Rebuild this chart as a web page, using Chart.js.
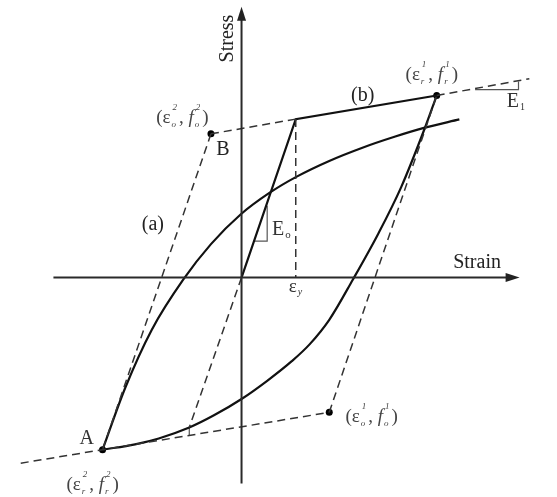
<!DOCTYPE html>
<html>
<head>
<meta charset="utf-8">
<script src="https://cdn.jsdelivr.net/npm/chart.js@4.4.1/dist/chart.umd.min.js"></script>
<style>
  html, body { margin: 0; padding: 0; background: #fff; }
  #wrap { width: 557px; height: 497px; position: relative; }
</style>
</head>
<body>
<div id="wrap"><canvas id="steel-chart"></canvas></div>
<script>
// strain is in units of eps_y, stress in units of f_y
var axisStrain = [-3.47, 5.13];
var axisStress = [-1.30, 1.71];

// branch reloading from A
var upperStrain = [-2.564, -2.145, -1.655, -1.073, -0.564, -0.018, 0.527, 1.018, 1.618, 2.218, 2.836, 3.382, 4.018];
var upperStress = [-1.087, -0.696, -0.329, -0.012, 0.211, 0.398, 0.537, 0.637, 0.736, 0.818, 0.890, 0.946, 0.998];
// branch from A up to the reversal point
var lowerStrain = [-2.564, -1.964, -1.527, -0.964, -0.509, 0, 0.473, 0.927, 1.255, 1.618, 2.055, 2.527, 2.945, 3.382, 3.6];
var lowerStress = [-1.087, -1.053, -1.016, -0.947, -0.870, -0.767, -0.652, -0.528, -0.422, -0.267, -0.012, 0.280, 0.571, 0.944, 1.149];

// key points
var ptA = [-2.564, -1.087];
var ptB = [-0.564, 0.907];
var ptY = [1, 1];
var ptR1 = [3.6, 1.149];
var ptO1 = [1.618, -0.851];
var ptOrigin = [0, 0];
var ptUpperEnd = [5.309, 1.255];
var ptLowerEnd = [-4.073, -1.172];
var ptElasticLow = [-0.964, -0.947];

// slope marks
var slopeE0 = [[0.23, 0.23], [0.473, 0.23], [0.473, 0.453]];
var slopeE1 = [[4.309, 1.186], [5.109, 1.186], [5.109, 1.237]];
var slopeTick = [[-0.964, -0.947], [-0.964, -0.997]];

function pts(xs, ys) {
  return xs.map(function (x, i) { return { x: x, y: ys[i] }; });
}
function pairs(list) {
  return list.map(function (p) { return { x: p[0], y: p[1] }; });
}

var dashLines = [
  [ptB, ptY],
  [ptR1, ptUpperEnd],
  [ptLowerEnd, ptO1],
  [ptB, ptA],
  [ptO1, ptR1],
  [ptOrigin, ptElasticLow],
  [ptY, [ptY[0], 0]]
];

var labels = [
  { parts: ['Stress'], x: -0.164, y: 1.509, size: 20, rotate: true, color: '#222' },
  { parts: ['Strain'], x: 4.345, y: 0.062, size: 20, color: '#222' },
  { parts: ['B'], x: -0.345, y: 0.776, size: 20, color: '#222' },
  { parts: ['A'], x: -2.855, y: -1.050, size: 20, color: '#333' },
  { parts: ['(a)'], x: -1.636, y: 0.298, size: 20, color: '#222' },
  { parts: ['(b)'], x: 2.236, y: 1.112, size: 20, color: '#222' },
  { parts: ['E', { sub: 'o', up: true }], x: 0.564, y: 0.267, size: 20, align: 'left', color: '#333', small: 11 },
  { parts: ['E', { sub: '1', up: true }], x: 4.891, y: 1.075, size: 20, align: 'left', color: '#333', small: 10 },
  { parts: ['\u03b5', { sub: 'y' }], x: 0.873, y: -0.093, size: 19, align: 'left', color: '#333', small: 10 },
  { parts: ['(\u03b5', { sub: 'o', sup: '2' }, ', ', { t: 'f', it: true }, { sub: 'o', sup: '2' }, ')'], x: -1.091, y: 0.975, size: 19, color: '#444' },
  { parts: ['(\u03b5', { sub: 'r', sup: '1' }, ', ', { t: 'f', it: true }, { sub: 'r', sup: '1' }, ')'], x: 3.509, y: 1.248, size: 19, color: '#444' },
  { parts: ['(\u03b5', { sub: 'o', sup: '1' }, ', ', { t: 'f', it: true }, { sub: 'o', sup: '1' }, ')'], x: 2.4, y: -0.913, size: 19, color: '#444' },
  { parts: ['(\u03b5', { sub: 'r', sup: '2' }, ', ', { t: 'f', it: true }, { sub: 'r', sup: '2' }, ')'], x: -2.745, y: -1.342, size: 19, color: '#444' }
];

var FONT = '"Liberation Serif", "DejaVu Serif", serif';

function smallFont(p, small) {
  return (p.up ? '' : 'italic ') + small + 'px ' + FONT;
}

function partWidth(ctx, p, size, small) {
  if (typeof p === 'string') {
    ctx.font = size + 'px ' + FONT;
    return ctx.measureText(p).width;
  }
  if (p.t) {
    ctx.font = (p.it ? 'italic ' : '') + size + 'px ' + FONT;
    return ctx.measureText(p.t).width;
  }
  ctx.font = smallFont(p, small);
  var w = 0;
  if (p.sub) w = Math.max(w, ctx.measureText(p.sub).width);
  if (p.sup) w = Math.max(w, ctx.measureText(p.sup).width);
  return w + (p.sup ? 4 : 2);
}

function drawRich(ctx, l, px, py) {
  var size = l.size;
  var small = l.small || 9;
  ctx.save();
  ctx.fillStyle = l.color;
  ctx.textBaseline = 'alphabetic';
  ctx.textAlign = 'left';
  var widths = l.parts.map(function (p) { return partWidth(ctx, p, size, small); });
  var total = widths.reduce(function (a, b) { return a + b; }, 0);
  var x0;
  if (l.rotate) {
    ctx.translate(px, py);
    ctx.rotate(-Math.PI / 2);
    x0 = -total / 2;
    py = 0;
  } else {
    x0 = l.align === 'left' ? px : px - total / 2;
  }
  var x = x0;
  l.parts.forEach(function (p, i) {
    if (typeof p === 'string') {
      ctx.font = size + 'px ' + FONT;
      ctx.fillText(p, x, py);
    } else if (p.t) {
      ctx.font = (p.it ? 'italic ' : '') + size + 'px ' + FONT;
      ctx.fillText(p.t, x, py);
    } else {
      ctx.font = smallFont(p, small);
      if (p.sub) ctx.fillText(p.sub, x + 1, py + (p.sup ? 4 : 3));
      if (p.sup) ctx.fillText(p.sup, x + 2, py - 13);
    }
    x += widths[i];
  });
  ctx.restore();
}

function drawArrow(ctx, tx, ty, angle) {
  ctx.save();
  ctx.translate(tx, ty);
  ctx.rotate(angle);
  ctx.fillStyle = '#222';
  ctx.beginPath();
  ctx.moveTo(0, 0);
  ctx.lineTo(-14, -4.5);
  ctx.lineTo(-14, 4.5);
  ctx.closePath();
  ctx.fill();
  ctx.restore();
}

var annotate = {
  id: 'annotate',
  afterDatasetsDraw: function (chart) {
    var ctx = chart.ctx, xs = chart.scales.x, ys = chart.scales.y;
    drawArrow(ctx, xs.getPixelForValue(axisStrain[1]), ys.getPixelForValue(0), 0);
    drawArrow(ctx, xs.getPixelForValue(0), ys.getPixelForValue(axisStress[1]), -Math.PI / 2);
    labels.forEach(function (l) {
      drawRich(ctx, l, xs.getPixelForValue(l.x), ys.getPixelForValue(l.y));
    });
  }
};

function solid(data, width, color, curved) {
  return {
    data: data,
    showLine: true,
    borderColor: color,
    borderWidth: width,
    pointRadius: 0,
    fill: false,
    cubicInterpolationMode: curved ? 'monotone' : 'default',
    tension: 0
  };
}

var datasets = [
  solid([{ x: axisStrain[0], y: 0 }, { x: axisStrain[1] - 0.15, y: 0 }], 2, '#2a2a2a'),
  solid([{ x: 0, y: axisStress[0] }, { x: 0, y: axisStress[1] - 0.05 }], 2, '#2a2a2a')
];
dashLines.forEach(function (seg) {
  var d = solid(pairs(seg), 1.5, '#333');
  d.borderDash = [8, 5];
  datasets.push(d);
});
datasets.push(solid(pts(upperStrain, upperStress), 2.2, '#111', true));
datasets.push(solid(pts(lowerStrain, lowerStress), 2.2, '#111', true));
datasets.push(solid(pairs([ptOrigin, ptY, ptR1]), 2.2, '#111'));
datasets.push(solid(pairs(slopeE0), 1.2, '#555'));
datasets.push(solid(pairs(slopeE1), 1.2, '#555'));
datasets.push(solid(pairs(slopeTick), 1.2, '#555'));
datasets.push({
  data: pairs([ptA, ptB, ptR1, ptO1]),
  showLine: false,
  pointRadius: 3.5,
  pointBackgroundColor: '#000',
  pointBorderColor: '#000',
  pointBorderWidth: 0
});

var steelChart = new Chart(document.getElementById('steel-chart'), {
  type: 'scatter',
  data: { datasets: datasets },
  options: {
    responsive: true,
    maintainAspectRatio: false,
    animation: false,
    layout: { padding: 0 },
    plugins: { legend: { display: false }, tooltip: { enabled: false } },
    scales: {
      x: { type: 'linear', min: -241 / 55, max: 316 / 55, display: false },
      y: { type: 'linear', min: -219 / 161, max: 278 / 161, display: false }
    }
  },
  plugins: [annotate]
});
</script>
</body>
</html>
